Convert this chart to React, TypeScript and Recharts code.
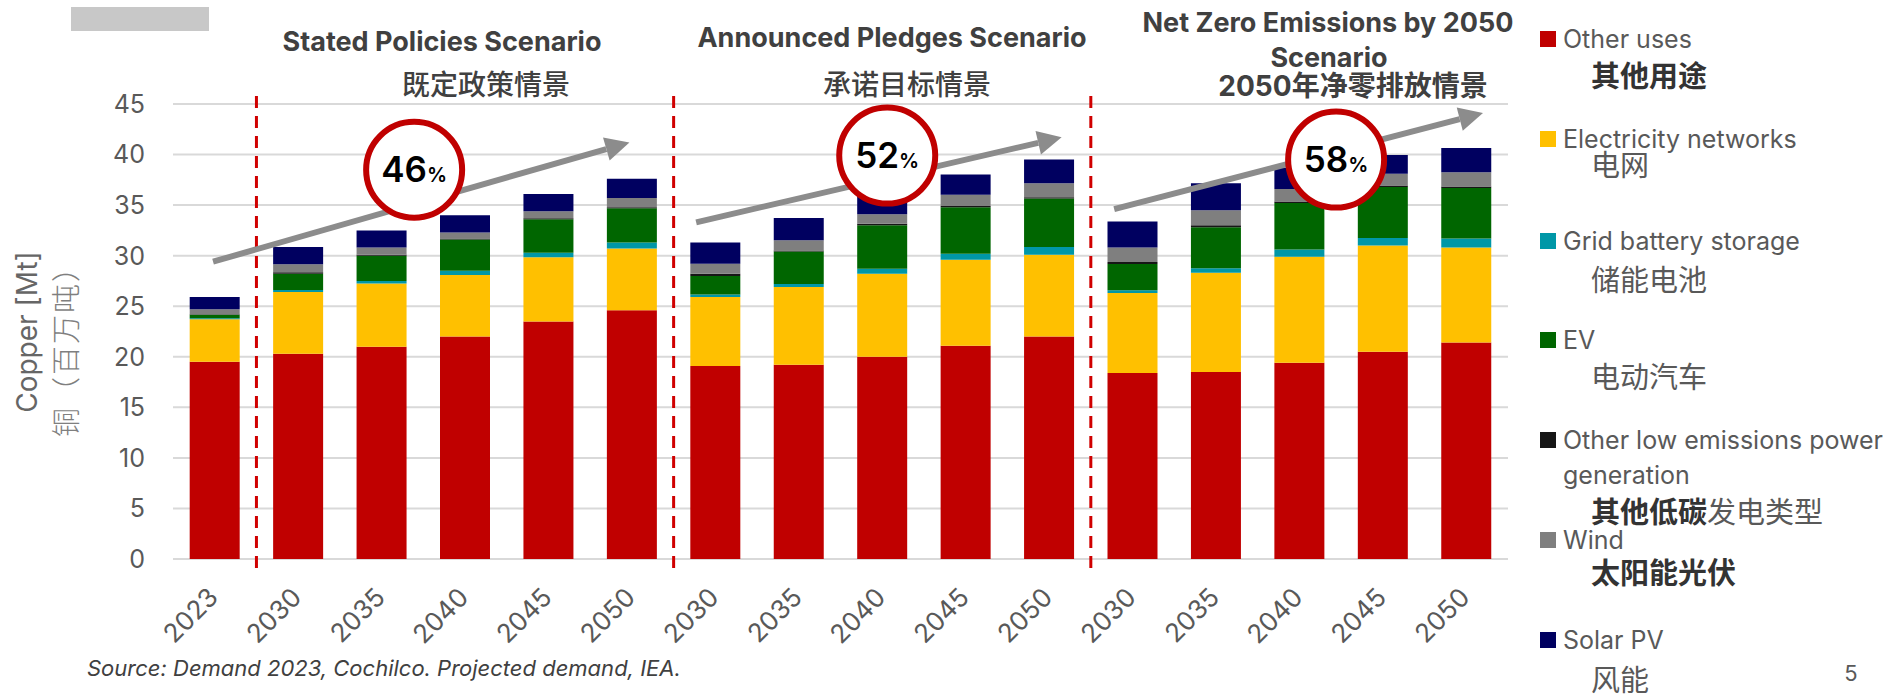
import { BarChart, Bar, XAxis, YAxis, CartesianGrid, ReferenceLine, ReferenceDot } from 'recharts';

const FONT = "Inter, 'Noto Sans CJK SC', sans-serif";

// years on the axis: 2023 actual, then SPS / APS / NZE projections
const categories = ['2023', '2030', '2035', '2040', '2045', '2050', '2030', '2035', '2040', '2045', '2050', '2030', '2035', '2040', '2045', '2050'];

// copper demand, Mt
const otherUses = [19.5, 20.3, 21.0, 22.0, 23.5, 24.6, 19.1, 19.2, 20.0, 21.1, 22.0, 18.4, 18.5, 19.4, 20.5, 21.4];
const electricityNetworks = [4.2, 6.1, 6.25, 6.1, 6.35, 6.1, 6.8, 7.7, 8.2, 8.5, 8.1, 7.9, 9.8, 10.5, 10.5, 9.4];
const gridBattery = [0.1, 0.2, 0.25, 0.4, 0.45, 0.6, 0.25, 0.3, 0.5, 0.6, 0.75, 0.27, 0.45, 0.7, 0.75, 0.9];
const ev = [0.35, 1.6, 2.5, 3.1, 3.3, 3.4, 1.85, 3.2, 4.3, 4.6, 4.8, 2.6, 4.05, 4.6, 5.05, 5.0];
const otherLowEmissions = [0.05, 0.15, 0.1, 0.1, 0.1, 0.1, 0.2, 0.12, 0.15, 0.12, 0.12, 0.2, 0.2, 0.15, 0.15, 0.15];
const wind = [0.5, 0.8, 0.7, 0.6, 0.7, 0.9, 1.0, 1.0, 0.95, 1.1, 1.4, 1.45, 1.5, 1.25, 1.15, 1.4];
const solarPv = [1.2, 1.7, 1.7, 1.7, 1.7, 1.9, 2.1, 2.2, 2.3, 2.0, 2.35, 2.55, 2.65, 2.1, 1.85, 2.4];

const yTicks = [0, 5, 10, 15, 20, 25, 30, 35, 40, 45];

// scenario separators sit between these category slots
const scenarioBreaks = [1, 6, 11];

const arrows = [
  { from: [0.48, 29.4], to: [5.47, 41.2] },
  { from: [6.27, 33.3], to: [10.65, 41.7] },
  { from: [11.28, 34.6], to: [15.7, 44.1] },
];

const growth = [
  { label: '46', x: 2.89, y: 38.5 },
  { label: '52', x: 8.56, y: 39.9 },
  { label: '58', x: 13.94, y: 39.5 },
];

const series = [
  { key: 'otherUses', color: '#C00000' },
  { key: 'electricityNetworks', color: '#FFC000' },
  { key: 'gridBattery', color: '#0097A7' },
  { key: 'ev', color: '#006600' },
  { key: 'otherLowEmissions', color: '#161616' },
  { key: 'wind', color: '#7F7F7F' },
  { key: 'solarPv', color: '#000060' },
];

const legendItems = [
  { en: ['Other uses'], zh: [['其他用途', true]], color: '#C00000' },
  { en: ['Electricity networks'], zh: [['电网', false]], color: '#FFC000' },
  { en: ['Grid battery storage'], zh: [['储能电池', false]], color: '#0097A7' },
  { en: ['EV'], zh: [['电动汽车', false]], color: '#006600' },
  { en: ['Other low emissions power', 'generation'], zh: [['其他低碳', true], ['发电类型', false]], color: '#161616' },
  { en: ['Wind'], zh: [['太阳能光伏', true]], color: '#7F7F7F' },
  { en: ['Solar PV'], zh: [['风能', false]], color: '#000060' },
];
const legendEnY = [39, 139, 241, 340, 440, 540, 640];
const legendZhY = [76, 165, 280, 377, 512, 573, 680];

const rows = categories.map((year, i) => ({
  year,
  slot: i + 0.5,
  otherUses: otherUses[i],
  electricityNetworks: electricityNetworks[i],
  gridBattery: gridBattery[i],
  ev: ev[i],
  otherLowEmissions: otherLowEmissions[i],
  wind: wind[i],
  solarPv: solarPv[i],
}));

const YearTick = (props: any) => {
  const { x, y, payload } = props;
  const tx = x + 5;
  const ty = y + 40;
  return (
    <text x={tx} y={ty} transform={`rotate(-45 ${tx} ${ty})`} textAnchor="end" fill="#595959" fontSize={26} fontFamily={FONT}>
      {payload.value}
    </text>
  );
};

const Arrow = (p: any) => {
  const { x1, y1, x2, y2 } = p;
  const len = Math.hypot(x2 - x1, y2 - y1);
  const ux = (x2 - x1) / len;
  const uy = (y2 - y1) / len;
  const bx = x2 - ux * 24;
  const by = y2 - uy * 24;
  const hw = 12;
  return (
    <g>
      <line x1={x1} y1={y1} x2={bx} y2={by} stroke="#8C8C8C" strokeWidth={6} />
      <polygon points={`${x2},${y2} ${bx - uy * hw},${by + ux * hw} ${bx + uy * hw},${by - ux * hw}`} fill="#8C8C8C" />
    </g>
  );
};

const badge = (label: string) => (p: any) => (
  <g>
    <circle cx={p.cx} cy={p.cy} r={48} fill="#fff" stroke="#C00000" strokeWidth={6} />
    <text x={p.cx} y={p.cy + 12} textAnchor="middle" fontFamily={FONT} fontWeight={600} fill="#000">
      <tspan fontSize={35}>{label}</tspan>
      <tspan fontSize={20}>%</tspan>
    </text>
  </g>
);

const abs = (x: number, y: number, extra: any = {}) => ({
  position: 'absolute' as const,
  left: x,
  top: y,
  transform: 'translate(-50%, -50%)',
  whiteSpace: 'nowrap' as const,
  lineHeight: 1,
  ...extra,
});

export default function App() {
  return (
    <div style={{ position: 'absolute', left: 0, top: 0, width: 1901, height: 694, fontFamily: FONT, background: '#fff' }}>
      <div style={{ position: 'absolute', left: 71, top: 7, width: 138, height: 24, background: '#C8C8C8' }} />

      <BarChart width={1901} height={694} data={rows} margin={{ top: 104, right: 393, bottom: 55, left: 103 }} barCategoryGap="20%">
        <CartesianGrid vertical={false} stroke="#D9D9D9" strokeWidth={2} />
        <XAxis dataKey="year" axisLine={false} tickLine={false} tickSize={0} tickMargin={0} height={80} interval={0} tick={<YearTick />} />
        <XAxis xAxisId="pos" dataKey="slot" type="number" domain={[0, 16]} allowDataOverflow hide />
        <YAxis domain={[0, 45]} ticks={yTicks} interval={0} axisLine={false} tickLine={false} tickSize={0} tickMargin={28} width={70} tick={{ fill: '#595959', fontSize: 25, fontFamily: FONT }} />
        {series.map((s) => (
          <Bar key={s.key} dataKey={s.key} stackId="a" fill={s.color} isAnimationActive={false} />
        ))}
        {scenarioBreaks.map((b) => (
          <ReferenceLine
            key={b}
            xAxisId="pos"
            segment={[{ x: b, y: -0.9 }, { x: b, y: 46.4 }]}
            ifOverflow="visible"
            stroke="#D00000"
            strokeWidth={3}
            strokeDasharray="12 8"
          />
        ))}
        {arrows.map((a, i) => (
          <ReferenceLine
            key={'a' + i}
            xAxisId="pos"
            segment={[{ x: a.from[0], y: a.from[1] }, { x: a.to[0], y: a.to[1] }]}
            ifOverflow="visible"
            shape={Arrow}
          />
        ))}
        {growth.map((g) => (
          <ReferenceDot key={g.label} xAxisId="pos" x={g.x} y={g.y} r={48} ifOverflow="visible" shape={badge(g.label)} />
        ))}
      </BarChart>

      {/* scenario headings */}
      <div style={abs(442, 41, { fontSize: 27, fontWeight: 700, color: '#404040' })}>Stated Policies Scenario</div>
      <div style={abs(486, 85, { fontSize: 28, fontWeight: 500, color: '#404040' })}>既定政策情景</div>
      <div style={abs(892, 37, { fontSize: 27, fontWeight: 700, color: '#404040' })}>Announced Pledges Scenario</div>
      <div style={abs(907, 85, { fontSize: 28, fontWeight: 500, color: '#404040' })}>承诺目标情景</div>
      <div style={abs(1328, 22, { fontSize: 27, fontWeight: 700, color: '#404040' })}>Net Zero Emissions by 2050</div>
      <div style={abs(1329, 57, { fontSize: 27, fontWeight: 700, color: '#404040' })}>Scenario</div>
      <div style={abs(1353, 86, { fontSize: 28, fontWeight: 700, color: '#404040' })}>2050年净零排放情景</div>

      {/* y axis title */}
      <div style={abs(27, 332, { fontSize: 28, color: '#666', transform: 'translate(-50%, -50%) rotate(-90deg)' })}>Copper [Mt]</div>
      <div style={abs(66, 344, { fontSize: 29, fontWeight: 300, letterSpacing: 2, color: '#7F7F7F', transform: 'translate(-50%, -50%) rotate(-90deg)' })}>铜（百万吨）</div>

      <div style={{ position: 'absolute', left: 87, top: 657, fontSize: 22, fontStyle: 'italic', color: '#404040', whiteSpace: 'nowrap', lineHeight: 1 }}>
        Source: Demand 2023, Cochilco. Projected demand, IEA.
      </div>
      <div style={abs(1851, 673, { fontSize: 22, color: '#595959' })}>5</div>

      {/* legend */}
      {legendItems.map((item, i) => (
        <div key={item.en[0]}>
          <div style={{ position: 'absolute', left: 1540, top: legendEnY[i] - 8, width: 16, height: 16, background: item.color }} />
          {item.en.map((line, j) => (
            <div key={line} style={{ position: 'absolute', left: 1563, top: legendEnY[i] + j * 35, transform: 'translateY(-50%)', fontSize: 25, color: '#595959', whiteSpace: 'nowrap', lineHeight: 1 }}>
              {line}
            </div>
          ))}
          <div style={{ position: 'absolute', left: 1591, top: legendZhY[i], transform: 'translateY(-50%)', fontSize: 29, whiteSpace: 'nowrap', lineHeight: 1 }}>
            {item.zh.map(([t, bold]) => (
              <span key={t as string} style={{ fontWeight: bold ? 700 : 400, color: bold ? '#333' : '#595959' }}>
                {t}
              </span>
            ))}
          </div>
        </div>
      ))}
    </div>
  );
}
